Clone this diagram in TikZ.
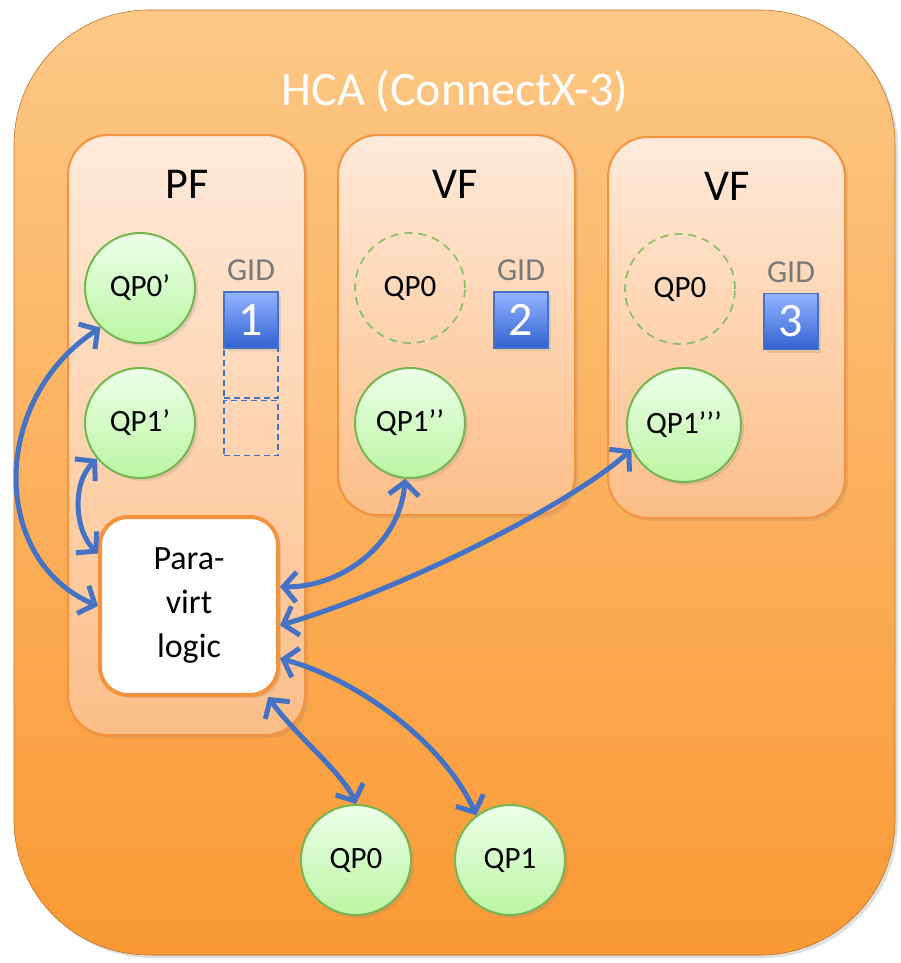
\documentclass[tikz,border=0pt]{standalone}
\usepackage{fontspec}
\setmainfont{Carlito}
\usetikzlibrary{arrows.meta, shadows}
\definecolor{cHcaTop}{RGB}{253, 200, 134}
\definecolor{cHcaBot}{RGB}{250, 153, 52}
\definecolor{cEdge}{RGB}{244, 146, 62}
\definecolor{cFnTop}{RGB}{255, 234, 218}
\definecolor{cFnBot}{RGB}{252, 190, 136}
\definecolor{cQpTop}{RGB}{236, 255, 232}
\definecolor{cQpBot}{RGB}{188, 246, 164}
\definecolor{cQpEdge}{RGB}{118, 182, 80}
\definecolor{cGidTop}{RGB}{150, 180, 255}
\definecolor{cGidBot}{RGB}{48, 98, 210}
\definecolor{cLink}{RGB}{68, 114, 196}
\tikzset{
    % HCA card
    hcaBox/.style={
        rectangle, rounded corners=135pt, inner sep=0pt,
        draw=cHcaBot!75!black, line width=0.6pt,
        top color=cHcaTop, bottom color=cHcaBot,
        minimum width=881pt, minimum height=945pt,
        drop shadow={opacity=0.25, shadow xshift=3pt, shadow yshift=-3pt}
    },
    % PF / VF function boxes
    funcBox/.style={
        rectangle, rounded corners=40pt, inner sep=0pt,
        draw=cEdge, line width=2pt,
        top color=cFnTop, bottom color=cFnBot,
        minimum width=237pt,
        drop shadow={opacity=0.2, shadow xshift=3pt, shadow yshift=-3pt}
    },
    funcLabel/.style={anchor=base, font=\fontsize{44}{50}\selectfont},
    % queue pairs
    qpNode/.style={
        circle, minimum size=110pt, inner sep=0pt,
        draw=cQpEdge, line width=2pt,
        top color=cQpTop, bottom color=cQpBot,
        font=\fontsize{31}{36}\selectfont,
        drop shadow={opacity=0.2, shadow xshift=3pt, shadow yshift=-3pt}
    },
    qpGhost/.style={
        circle, minimum size=110pt, inner sep=0pt,
        draw=cQpEdge!85, line width=1.8pt, dash pattern=on 8pt off 6pt,
        font=\fontsize{31}{36}\selectfont
    },
    % GID table
    gidTag/.style={anchor=base, text=gray!95!black, font=\fontsize{32}{36}\selectfont},
    gidBox/.style={
        rectangle, minimum width=54pt, minimum height=56pt, inner sep=0pt,
        draw=cLink, line width=1.5pt,
        top color=cGidTop, bottom color=cGidBot,
        text=white, font=\fontsize{48}{50}\selectfont,
        drop shadow={opacity=0.2, shadow xshift=3pt, shadow yshift=-3pt}
    },
    gidSlot/.style={
        rectangle, minimum width=54pt, inner sep=0pt,
        draw=cLink, line width=1.5pt, dash pattern=on 6pt off 4pt
    },
    % para-virtualisation block
    logicBox/.style={
        rectangle, rounded corners=28pt, inner sep=0pt,
        draw=cEdge, line width=4pt, fill=white,
        minimum width=178pt, minimum height=178pt,
        align=center, font=\fontsize{34}{44}\selectfont,
        drop shadow={opacity=0.2, shadow xshift=3pt, shadow yshift=-3pt}
    },
    % links
    link/.style={
        <->, >={Straight Barb[length=13pt, width=30pt]},
        draw=cLink, line width=5pt
    }
}

\begin{document}
\begin{tikzpicture}[x=1pt, y=-1pt]
    \useasboundingbox (0,0) rectangle (901,963);

    % 1. HCA card
    \node[hcaBox] (hca) at (454.5,482.5) {};
    \node[anchor=base, text=white, font=\fontsize{48}{54}\selectfont] (title) at (455,106) {HCA (ConnectX-3)};

    % 2. PF and the two VFs
    \node[funcBox, minimum height=600pt] (pf) at (186.5,435) {};
    \node[funcBox, minimum height=380pt] (vfA) at (456.5,325) {};
    \node[funcBox, minimum height=381pt] (vfB) at (726.5,327.5) {};
    \node[funcLabel] (pfName) at (187,198) {PF};
    \node[funcLabel] (vfAName) at (455,198) {VF};
    \node[funcLabel] (vfBName) at (727,200) {VF};

    % 3. QPs inside the functions
    \node[qpNode] (qp0pf) at (140,288) {QP0’};
    \node[qpNode] (qp1pf) at (140,423) {QP1’};
    \node[qpGhost] (qp0vfA) at (410,288) {QP0};
    \node[qpNode] (qp1vfA) at (410,423) {QP1’’};
    \node[qpGhost] (qp0vfB) at (680,289) {QP0};
    \node[qpNode, minimum size=114pt] (qp1vfB) at (684,425) {QP1’’’};

    % 4. GID entries
    \node[gidTag] (gidTagPf) at (251,280) {GID};
    \node[gidBox] (gid1) at (251,320) {1};
    \node[gidSlot, minimum height=50pt] (slotA) at (251,373) {};
    \node[gidSlot, minimum height=55pt] (slotB) at (251,428) {};
    \node[gidTag] (gidTagVfA) at (521,280) {GID};
    \node[gidBox] (gid2) at (521,320) {2};
    \node[gidTag] (gidTagVfB) at (791,282) {GID};
    \node[gidBox] (gid3) at (791,321.5) {3};

    % 5. para-virt logic and the real QPs
    \node[logicBox] (para) at (189,606) {Para-\\virt\\logic};
    \node[qpNode] (qp0) at (356,860) {QP0};
    \node[qpNode] (qp1) at (510,860) {QP1};

    % 6. links
    \draw[link] (qp0pf.225) .. controls (-10,400) and (-10,560) .. (para.west);
    \draw[link] (qp1pf.220) .. controls (72,482) and (74,530) .. (para.150);
    \draw[link] (qp1vfA.265) .. controls (400,545) and (340,588) .. (para.12);
    \draw[link] (qp1vfB.205) .. controls (570,505) and (400,590) .. (para.-12);
    \draw[link] (para.-49) .. controls (295,735) and (342,772) .. (qp0.north);
    \draw[link] (para.-30) .. controls (360,680) and (445,745) .. (qp1.127);

\end{tikzpicture}
\end{document}
